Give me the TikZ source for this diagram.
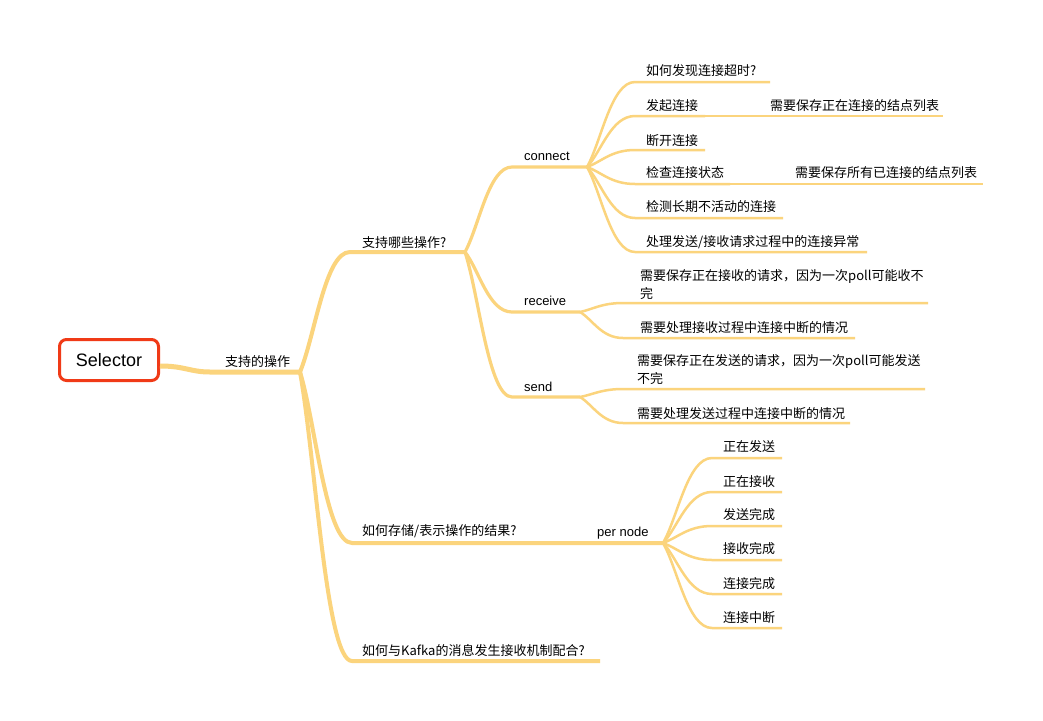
\documentclass[tikz,border=0pt]{standalone}
\usepackage{fontspec}
\newfontfamily\cjk{Noto Sans CJK SC}
\newfontfamily\lat{Liberation Sans}
\usetikzlibrary{calc}
\definecolor{brc}{RGB}{251,212,125}
\definecolor{rootred}{RGB}{240,58,23}
\newcommand\mmbranch[4]{\draw[#1] (#2) .. controls ($(#2)!0.3!(#3)$) and ($(#2|-#3)!0.5!(#3)$) .. (#3) -- (#4);}
\begin{document}
\begin{tikzpicture}[x=1pt,y=-1pt,
 lbl/.style={anchor=base west, inner sep=0pt, font=\cjk\fontsize{13}{18}\selectfont},
 llat/.style={anchor=base west, inner sep=0pt, font=\lat\fontsize{13}{18}\selectfont},
 b0/.style={draw=brc, line width=5pt, line join=round},
 b1/.style={draw=brc, line width=4pt, line join=round},
 b2/.style={draw=brc, line width=3.2pt, line join=round},
 b3/.style={draw=brc, line width=2.5pt, line join=round},
 rootbox/.style={draw=rootred, line width=3pt, rounded corners=7pt, fill=white, minimum width=99pt, minimum height=41pt, inner sep=0pt, font=\lat\fontsize{18}{20}\selectfont}
 ]
\useasboundingbox (0,0) rectangle (1043,720);
\fill[white] (0,0) rectangle (1043,720);

% ---------- coordinates ----------
\coordinate (r1) at (210,372);
\coordinate (h1) at (300,372);
\coordinate (sops) at (350,252);  \coordinate (h2) at (465,252);
\coordinate (sres) at (352,543);  \coordinate (h4) at (663,543);
\coordinate (skaf) at (352,661);  \coordinate (ekaf) at (600,661);
\coordinate (scon) at (512,167);  \coordinate (h3) at (587,167);
\coordinate (srec) at (512,312);  \coordinate (hr) at (580,312);
\coordinate (ssnd) at (512,397);  \coordinate (hs) at (580,397);
% connect children
\coordinate (sc1) at (635,82);  \coordinate (ec1) at (770,82);
\coordinate (sc2) at (635,116); \coordinate (ec2) at (705,116); \coordinate (ec2b) at (943,116);
\coordinate (sc3) at (635,150); \coordinate (ec3) at (705,150);
\coordinate (sc4) at (635,184); \coordinate (ec4) at (730,184); \coordinate (ec4b) at (983,184);
\coordinate (sc5) at (635,218); \coordinate (ec5) at (783,218);
\coordinate (sc6) at (635,252); \coordinate (ec6) at (867,252);
% receive children
\coordinate (sr1) at (623,303); \coordinate (er1) at (928,303);
\coordinate (sr2) at (623,338); \coordinate (er2) at (855,338);
% send children
\coordinate (ss1) at (623,389); \coordinate (es1) at (925,389);
\coordinate (ss2) at (623,423); \coordinate (es2) at (850,423);
% per node children
\coordinate (sp1) at (712,458); \coordinate (ep1) at (782,458);
\coordinate (sp2) at (712,492); \coordinate (ep2) at (782,492);
\coordinate (sp3) at (712,526); \coordinate (ep3) at (782,526);
\coordinate (sp4) at (712,560); \coordinate (ep4) at (782,560);
\coordinate (sp5) at (712,594); \coordinate (ep5) at (782,594);
\coordinate (sp6) at (712,628); \coordinate (ep6) at (782,628);

% ---------- root ----------
\node[rootbox] (root) at (109,360) {Selector};
\draw[b0] ([yshift=-6pt]root.east) .. controls (185,366) and (190,372) .. (r1) -- (h1);

% ---------- connectors ----------
\mmbranch{b1}{h1}{sops}{h2}
\mmbranch{b1}{h1}{sres}{h4}
\mmbranch{b1}{h1}{skaf}{ekaf}
\mmbranch{b2}{h2}{scon}{h3}
\mmbranch{b2}{h2}{srec}{hr}
\mmbranch{b2}{h2}{ssnd}{hs}
\mmbranch{b3}{h3}{sc1}{ec1}
\mmbranch{b3}{h3}{sc2}{ec2}
\draw[b3] (ec2) -- (ec2b);
\mmbranch{b3}{h3}{sc3}{ec3}
\mmbranch{b3}{h3}{sc4}{ec4}
\draw[b3] (ec4) -- (ec4b);
\mmbranch{b3}{h3}{sc5}{ec5}
\mmbranch{b3}{h3}{sc6}{ec6}
\mmbranch{b3}{hr}{sr1}{er1}
\mmbranch{b3}{hr}{sr2}{er2}
\mmbranch{b3}{hs}{ss1}{es1}
\mmbranch{b3}{hs}{ss2}{es2}
\mmbranch{b3}{h4}{sp1}{ep1}
\mmbranch{b3}{h4}{sp2}{ep2}
\mmbranch{b3}{h4}{sp3}{ep3}
\mmbranch{b3}{h4}{sp4}{ep4}
\mmbranch{b3}{h4}{sp5}{ep5}
\mmbranch{b3}{h4}{sp6}{ep6}

% ---------- labels ----------
\node[lbl] (t0) at (225,366) {支持的操作};
\node[lbl] (t1) at (362,247) {支持哪些操作?};
\node[lbl] (t2) at (362,535) {如何存储/表示操作的结果?};
\node[lbl] (t3) at (362,655) {如何与Kafka的消息发生接收机制配合?};
\node[llat] (tcon) at (524,160.5) {connect};
\node[llat] (trec) at (524,305) {receive};
\node[llat] (tsnd) at (524,391) {send};
\node[llat] (tper) at (597,536) {per node};
\node[lbl] (c1) at (646,75) {如何发现连接超时?};
\node[lbl] (c2) at (646,110) {发起连接};
\node[lbl] (c2a) at (770,110) {需要保存正在连接的结点列表};
\node[lbl] (c3) at (646,145) {断开连接};
\node[lbl] (c4) at (646,177) {检查连接状态};
\node[lbl] (c4a) at (795,177) {需要保存所有已连接的结点列表};
\node[lbl] (c5) at (646,211) {检测长期不活动的连接};
\node[lbl] (c6) at (646,246) {处理发送/接收请求过程中的连接异常};
\node[lbl] (r1t) at (640,280) {\vtop{\baselineskip=18pt\hbox{需要保存正在接收的请求，因为一次poll可能收不}\hbox{完}}};
\node[lbl] (r2t) at (640,332) {需要处理接收过程中连接中断的情况};
\node[lbl] (s1t) at (637,365) {\vtop{\baselineskip=18pt\hbox{需要保存正在发送的请求，因为一次poll可能发送}\hbox{不完}}};
\node[lbl] (s2t) at (637,418) {需要处理发送过程中连接中断的情况};
\node[lbl] (p1) at (723,451) {正在发送};
\node[lbl] (p2) at (723,486) {正在接收};
\node[lbl] (p3) at (723,519) {发送完成};
\node[lbl] (p4) at (723,553) {接收完成};
\node[lbl] (p5) at (723,588) {连接完成};
\node[lbl] (p6) at (723,622) {连接中断};
\end{tikzpicture}
\end{document}
